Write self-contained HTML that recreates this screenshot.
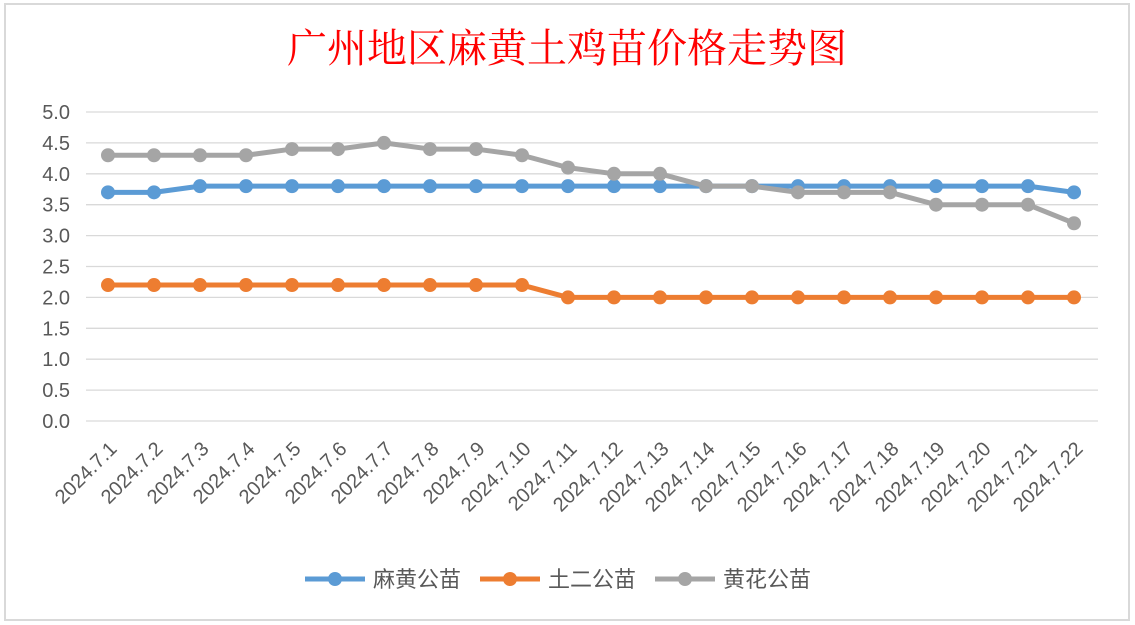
<!DOCTYPE html>
<html><head><meta charset="utf-8"><style>
body{margin:0;background:#fff;width:1135px;height:625px;overflow:hidden}
svg{display:block}
</style></head><body>
<svg width="1135" height="625" xmlns="http://www.w3.org/2000/svg" font-family="Liberation Sans, Noto Sans CJK SC, sans-serif">
<rect x="0" y="0" width="1135" height="625" fill="#fff"/>
<rect x="5" y="4" width="1124" height="616" fill="#fff" stroke="#d9d9d9" stroke-width="2"/>
<text x="567" y="62" text-anchor="middle" font-family="Liberation Serif, Noto Serif CJK SC, serif" font-size="40" fill="#ff0000">广州地区麻黄土鸡苗价格走势图</text>
<g id="grid" stroke="#d9d9d9" stroke-width="1.3"></g>
<g id="ylab" font-size="20" fill="#595959" text-anchor="end"></g>
<g id="xlab" font-size="20" fill="#595959" text-anchor="end"></g>
<g id="series"></g>
<g font-size="22" fill="#595959" font-family="Liberation Sans, Noto Sans CJK SC, sans-serif">
<line x1="305" y1="579" x2="365" y2="579" stroke="#5b9bd5" stroke-width="5"/><circle cx="335" cy="579" r="7" fill="#5b9bd5"/>
<text x="373" y="587">麻黄公苗</text>
<line x1="480" y1="579" x2="540" y2="579" stroke="#ed7d31" stroke-width="5"/><circle cx="510" cy="579" r="7" fill="#ed7d31"/>
<text x="548" y="587">土二公苗</text>
<line x1="655" y1="579" x2="715" y2="579" stroke="#a5a5a5" stroke-width="5"/><circle cx="685" cy="579" r="7" fill="#a5a5a5"/>
<text x="723" y="587">黄花公苗</text>
</g>
</svg>
<script>
const ns="http://www.w3.org/2000/svg";
function el(t,a,p,txt){const e=document.createElementNS(ns,t);for(const k in a)e.setAttribute(k,a[k]);if(txt!==undefined)e.textContent=txt;document.getElementById(p).appendChild(e);return e;}
const Y=v=>421-v*61.8, X=i=>108+i*46;
for(let k=0;k<=10;k++){const v=k*0.5;el('line',{x1:86,x2:1098,y1:Y(v),y2:Y(v)},'grid');el('text',{x:70,y:Y(v)+7},'ylab',v.toFixed(1));}
for(let i=0;i<22;i++){const x=X(i)+10,y=450;el('text',{x:x,y:y,transform:`rotate(-45 ${x} ${y})`},'xlab','2024.7.'+(i+1));}
const data=[
["#5b9bd5",[3.7,3.7,3.8,3.8,3.8,3.8,3.8,3.8,3.8,3.8,3.8,3.8,3.8,3.8,3.8,3.8,3.8,3.8,3.8,3.8,3.8,3.7]],
["#ed7d31",[2.2,2.2,2.2,2.2,2.2,2.2,2.2,2.2,2.2,2.2,2,2,2,2,2,2,2,2,2,2,2,2]],
["#a5a5a5",[4.3,4.3,4.3,4.3,4.4,4.4,4.5,4.4,4.4,4.3,4.1,4.0,4.0,3.8,3.8,3.7,3.7,3.7,3.5,3.5,3.5,3.2]]];
for(const [c,d] of data){el('polyline',{points:d.map((v,i)=>X(i)+','+Y(v)).join(' '),fill:'none',stroke:c,'stroke-width':5,'stroke-linejoin':'round'},'series');
d.forEach((v,i)=>el('circle',{cx:X(i),cy:Y(v),r:7,fill:c},'series'));}
</script>
</body></html>
